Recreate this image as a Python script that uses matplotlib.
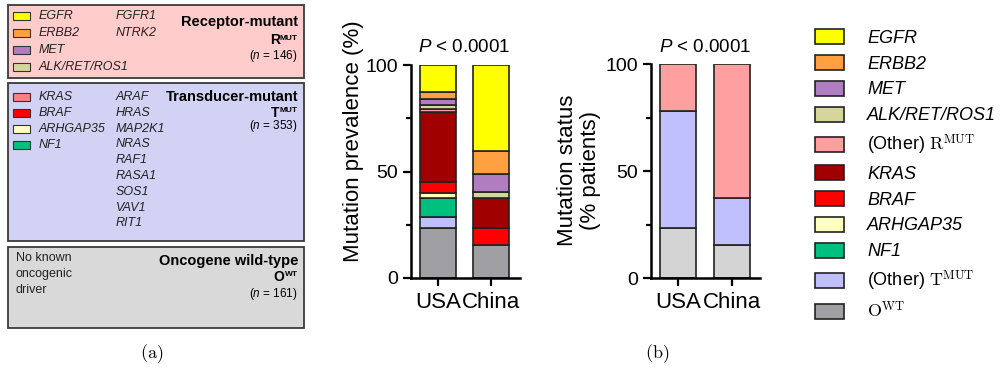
import matplotlib
matplotlib.use("Agg")
import matplotlib.pyplot as plt
from matplotlib.patches import Patch, Rectangle

plt.rcParams["font.family"] = ["Liberation Sans", "DejaVu Sans"]
plt.rcParams["mathtext.fontset"] = "cm"
plt.rcParams["mathtext.rm"] = "Liberation Sans"
plt.rcParams["mathtext.it"] = "Liberation Sans:italic"
plt.rcParams["mathtext.bf"] = "Liberation Sans:bold"

# stacked categories, top of the bar first
genes = ["EGFR", "ERBB2", "MET", "ALK/RET/ROS1", "(Other) R", "KRAS", "BRAF",
         "ARHGAP35", "NF1", "(Other) T", "OWT"]
legend_labels = ["EGFR", "ERBB2", "MET", "ALK/RET/ROS1", r"(Other) $\mathrm{R}^{\mathrm{MUT}}$",
                 "KRAS", "BRAF", "ARHGAP35", "NF1", r"(Other) $\mathrm{T}^{\mathrm{MUT}}$",
                 r"$\mathrm{O}^{\mathrm{WT}}$"]
italic_label = [True, True, True, True, False, True, True, True, True, False, False]
gene_colors = ["#FFFF00", "#FFA040", "#B07EC0", "#D6D69C", "#FFA0A0", "#A00000", "#FF0000",
               "#FFFFC0", "#00C080", "#C0C0FF", "#A0A0A4"]
cohorts = ["USA", "China"]
usa_prevalence = [12.8, 3.2, 2.8, 2.0, 1.4, 32.6, 5.4, 2.1, 9.2, 4.9, 23.6]
china_prevalence = [40.4, 10.8, 8.6, 2.5, 0.0, 14.4, 7.8, 0.0, 0.0, 0.0, 15.5]

# mutation status, top of the bar first
status = ["RMUT", "TMUT", "OWT"]
status_colors = ["#FFA0A0", "#C0C0FF", "#D4D4D4"]
usa_status = [21.6, 54.8, 23.6]
china_status = [62.3, 22.2, 15.5]

receptor_genes = ["EGFR", "ERBB2", "MET", "ALK/RET/ROS1"]
receptor_colors = ["#FFFF00", "#FFA040", "#B07EC0", "#D6D69C"]
receptor_other = ["FGFR1", "NTRK2"]
transducer_genes = ["KRAS", "BRAF", "ARHGAP35", "NF1"]
transducer_colors = ["#FF8080", "#FF0000", "#FFFFC0", "#00C080"]
transducer_other = ["ARAF", "HRAS", "MAP2K1", "NRAS", "RAF1", "RASA1", "SOS1", "VAV1", "RIT1"]
group_n = [146, 353, 161]

fig = plt.figure(figsize=(10.02, 3.76), dpi=100)
renderer = fig.canvas.get_renderer()

# ---- (a) group boxes, drawn in pixel coordinates
bg = fig.add_axes([0, 0, 1, 1])
bg.set_xlim(0, 1002)
bg.set_ylim(376, 0)
bg.axis("off")

boxes = [(5, 78, "#FFCCCC"), (83, 241, "#D2D2F5"), (247, 328, "#D9D9D9")]
for top, bottom, fc in boxes:
    bg.add_patch(Rectangle((8, top), 296, bottom - top, facecolor=fc,
                           edgecolor="#3A3A3A", linewidth=1.3))

gene_fs = 9
for i, (g, c) in enumerate(zip(receptor_genes, receptor_colors)):
    y = 16 + i * 17
    bg.add_patch(Rectangle((13, y - 4), 17, 8, facecolor=c, edgecolor="#333333", linewidth=0.8))
    bg.text(39, y, g, style="italic", fontsize=gene_fs, va="center", color="#222222")
for i, g in enumerate(receptor_other):
    bg.text(116, 16 + i * 17, g, style="italic", fontsize=gene_fs, va="center", color="#222222")

for i, (g, c) in enumerate(zip(transducer_genes, transducer_colors)):
    y = 97 + i * 16
    bg.add_patch(Rectangle((13, y - 4), 17, 8, facecolor=c, edgecolor="#333333", linewidth=0.8))
    bg.text(39, y, g, style="italic", fontsize=gene_fs, va="center", color="#222222")
for i, g in enumerate(transducer_other):
    bg.text(116, 97 + i * 15.8, g, style="italic", fontsize=gene_fs, va="center", color="#222222")

for i, line in enumerate(["No known", "oncogenic", "driver"]):
    bg.text(16, 258 + i * 16, line, fontsize=gene_fs, va="center", color="#222222")

# title centre, symbol baseline, count centre
titles = [("Receptor-mutant", "R", "MUT", 22, 44, 56.5),
          ("Transducer-mutant", "T", "MUT", 97, 117, 126.5),
          ("Oncogene wild-type", "O", "WT", 261, 281, 294)]
for (name, letter, sup, y1, y2, y3), n in zip(titles, group_n):
    bg.text(298, y1, name, fontsize=10.5, fontweight="bold", ha="right", va="center")
    s = bg.text(298, y2 - 4.5, sup, fontsize=6, fontweight="bold", ha="right", va="baseline")
    w = s.get_window_extent(renderer).width
    bg.text(298 - w - 0.3, y2, letter, fontsize=10, fontweight="bold", ha="right", va="baseline")
    bg.text(298, y3, r"($\mathit{n}$ = %d)" % n, fontsize=8.5, ha="right", va="center",
            math_fontfamily="custom")

bg.text(152, 354, r"$(\mathrm{a})$", fontsize=13, ha="center", va="center", math_fontfamily="cm")
bg.text(657, 354, r"$(\mathrm{b})$", fontsize=13, ha="center", va="center", math_fontfamily="cm")


def style_axis(ax, xmin, xmax):
    ax.set_xlim(xmin, xmax)
    ax.set_ylim(0, 100)
    for side in ("top", "right"):
        ax.spines[side].set_visible(False)
    for side in ("left", "bottom"):
        ax.spines[side].set_linewidth(1.8)
    ax.set_yticks([0, 50, 100])
    ax.set_yticks([25, 75], minor=True)
    ax.set_xticks([0, 1])
    ax.set_xticklabels(cohorts)
    ax.tick_params(axis="both", which="major", direction="out", length=6, width=1.6, labelsize=14)
    ax.tick_params(axis="x", labelsize=16, pad=4)
    ax.tick_params(axis="y", which="minor", direction="out", length=3.5, width=1.6)
    ax.text(0.5, 108, r"$\mathit{P}$ < 0.0001", fontsize=13.5, ha="center", va="center",
            math_fontfamily="custom")


# ---- (b) left: prevalence by gene
ax1 = fig.add_axes([411 / 1002, 1 - 278 / 376, 109 / 1002, 213 / 376])
for x, vals in enumerate([usa_prevalence, china_prevalence]):
    bottom = 0.0
    for v, c in zip(vals[::-1], gene_colors[::-1]):
        if v > 0:
            ax1.bar(x, v, bottom=bottom, width=0.68, color=c, edgecolor="#222222", linewidth=1.2)
        bottom += v
style_axis(ax1, -0.51, 1.55)
ax1.set_ylabel("Mutation prevalence (%)", fontsize=16, va="center")
ax1.yaxis.set_label_coords(-0.53, 0.64)

# ---- (b) right: mutation status
ax2 = fig.add_axes([651 / 1002, 1 - 278.3 / 376, 109 / 1002, 214 / 376])
for x, vals in enumerate([usa_status, china_status]):
    bottom = 0.0
    for v, c in zip(vals[::-1], status_colors[::-1]):
        ax2.bar(x, v, bottom=bottom, width=0.66, color=c, edgecolor="#222222", linewidth=1.2)
        bottom += v
style_axis(ax2, -0.5, 1.52)
ax2.set_ylabel("Mutation status\n(% patients)", fontsize=16, va="center", linespacing=1.1)
ax2.yaxis.set_label_coords(-0.66, 0.505)

# ---- shared legend
handles = [Patch(facecolor=c, edgecolor="#222222", linewidth=1.2) for c in gene_colors]
leg = fig.legend(handles, legend_labels, loc="upper left", bbox_to_anchor=(815 / 1002, 1 - 29 / 376),
                 frameon=False, fontsize=13, handlelength=1.6, handleheight=0.9, handletextpad=1.3,
                 labelspacing=0.45, borderpad=0, borderaxespad=0)
for t, it in zip(leg.get_texts(), italic_label):
    t.set_math_fontfamily("cm")
    if it:
        t.set_fontstyle("italic")

fig.savefig("out.png", dpi=100)
